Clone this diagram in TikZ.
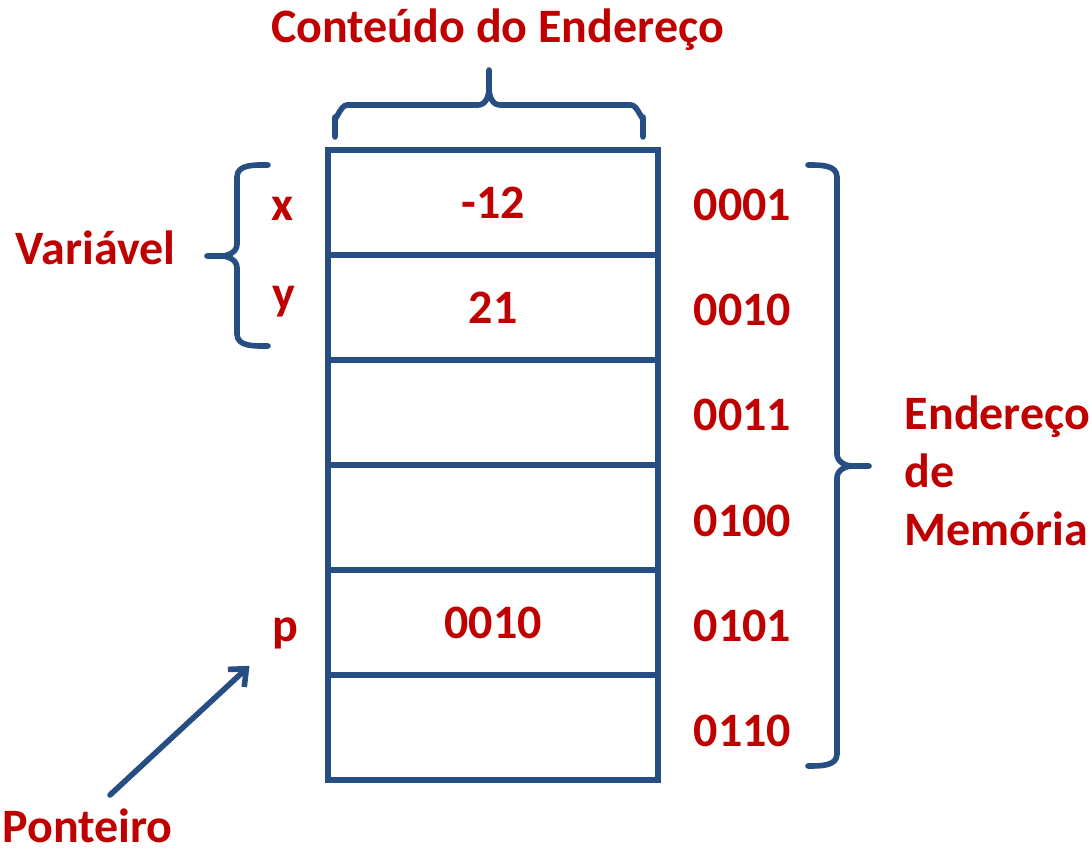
\documentclass[tikz,border=0pt]{standalone}
\usepackage{fontspec}
\setmainfont{Carlito}
\usepackage{tikz}
\usetikzlibrary{arrows.meta,positioning}
\definecolor{memred}{RGB}{192,0,0}
\definecolor{memblue}{RGB}{38,78,130}

\begin{document}
\begin{tikzpicture}[x=0.5pt, y=-0.5pt, line width=2.8pt]
\tikzstyle{txt}=[text=memred, inner sep=0pt,
                 font=\bfseries\fontsize{24}{28.75}\selectfont]
\tikzstyle{cell}=[txt, draw=memblue, outer sep=0pt,
                  minimum width=165pt, minimum height=52.5pt]
\tikzstyle{brace}=[draw=memblue, line cap=round, line join=round]
\useasboundingbox (0,0) rectangle (1091,849);
% memory cells
\node[cell] (c1) at (493,202.5) {-12};
\node[cell] (c2) at (493,307.5) {21};
\node[cell] (c3) at (493,412.5) {};
\node[cell] (c4) at (493,517.5) {};
\node[cell] (c5) at (493,622.5) {0010};
\node[cell] (c6) at (493,727.5) {};
% addresses
\node[txt, anchor=base west] (a1) at (691,221) {0001};
\node[txt, anchor=base west] (a2) at (691,326) {0010};
\node[txt, anchor=base west] (a3) at (691,431) {0011};
\node[txt, anchor=base west] (a4) at (691,536) {0100};
\node[txt, anchor=base west] (a5) at (691,641) {0101};
\node[txt, anchor=base west] (a6) at (691,746) {0110};
% variable names
\node[txt, anchor=base] (x) at (283,221) {x};
\node[txt, anchor=base] (y) at (284,310) {y};
\node[txt, anchor=base] (p) at (285,641) {p};
% labels
\node[txt, anchor=base] (title) at (497.5,43) {Conteúdo do Endereço};
\node[txt, anchor=base] (var) at (95.5,265) {Variável};
\node[txt, anchor=base] (ptr) at (87.5,842) {Ponteiro};
\node[txt, anchor=base west, align=left,
      font=\bfseries\fontsize{24}{28.9}\selectfont] (mem) at (902,545)
     {Endereço\\de\\Memória};
% braces
\draw[brace] (335,137) -- (335,117) to[out=-90,in=180] (347,105) -- (478,105)
      to[out=0,in=-90] (489,88) -- (489,70);
\draw[brace] (489,88) to[out=-90,in=180] (500,105) -- (631,105)
      to[out=0,in=-90] (643,117) -- (643,137);
\draw[brace] (268,165) to[out=180,in=90] (237,177) -- (237,244)
      to[out=-90,in=0] (221,256) -- (207,256);
\draw[brace] (221,256) to[out=0,in=90] (237,268) -- (237,334)
      to[out=-90,in=180] (268,346);
\draw[brace] (808,165) to[out=0,in=90] (837,177) -- (837,454)
      to[out=-90,in=180] (853,466) -- (869,466);
\draw[brace] (853,466) to[out=180,in=90] (837,478) -- (837,754)
      to[out=-90,in=0] (808,766);
% pointer
\coordinate (ptrtail) at (110,795);
\draw[brace, -{Straight Barb[length=7pt, width=12pt]},
      shorten >=13.5pt] (ptrtail) -- (p);
\end{tikzpicture}
\end{document}
